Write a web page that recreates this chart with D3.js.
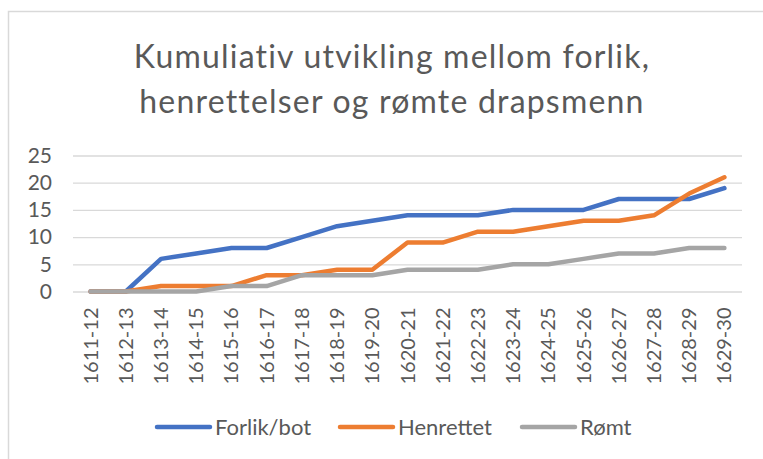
<!DOCTYPE html>
<html>
<head>
<meta charset="utf-8">
<script src="https://cdn.jsdelivr.net/npm/d3@7"></script>
<style>
  body { margin: 0; background: #fff; }
  text { font-family: Lato, "Open Sans", sans-serif; }
</style>
</head>
<body>
<div id="chart"></div>
<script>
// chart data
const categories = ["1611-12", "1612-13", "1613-14", "1614-15", "1615-16", "1616-17", "1617-18",
  "1618-19", "1619-20", "1620-21", "1621-22", "1622-23", "1623-24", "1624-25", "1625-26",
  "1626-27", "1627-28", "1628-29", "1629-30"]
const forlik = [0, 0, 6, 7, 8, 8, 10, 12, 13, 14, 14, 14, 15, 15, 15, 17, 17, 17, 19]
const henrettet = [0, 0, 1, 1, 1, 3, 3, 4, 4, 9, 9, 11, 11, 12, 13, 13, 14, 18, 21]
const romt = [0, 0, 0, 0, 1, 1, 3, 3, 3, 4, 4, 4, 5, 5, 6, 7, 7, 8, 8]
const seriesNames = ["Forlik/bot", "Henrettet", "Rømt"]
const yTicks = [0, 5, 10, 15, 20, 25]
const titleLines = ["Kumuliativ utvikling mellom forlik,", "henrettelser og rømte drapsmenn"]

const series = [
  { name: seriesNames[0], values: forlik, color: "#4472C4" },
  { name: seriesNames[1], values: henrettet, color: "#ED7D31" },
  { name: seriesNames[2], values: romt, color: "#A5A5A5" }
]

const width = 763
const height = 459
const plot = { left: 73, right: 742, top: 155.5, bottom: 291.5 }

const svg = d3.select("#chart").append("svg")
  .attr("width", width)
  .attr("height", height)

// chart border (only the left and top edges are in the frame)
svg.append("rect")
  .attr("x", 8.5).attr("y", 11.5)
  .attr("width", width + 20).attr("height", height + 20)
  .attr("fill", "none")
  .attr("stroke", "#d9d9d9")
  .attr("stroke-width", 1.5)

// title
svg.append("g").selectAll("text")
  .data(titleLines)
  .join("text")
  .attr("x", 392)
  .attr("y", (d, i) => 68 + i * 45)
  .attr("text-anchor", "middle")
  .attr("font-size", "32px")
  .attr("letter-spacing", "1.2px")
  .attr("fill", "#595959")
  .text(d => d)

const x = d3.scaleBand()
  .domain(categories)
  .range([plot.left, plot.right])

const y = d3.scaleLinear()
  .domain([0, 25])
  .range([plot.bottom, plot.top])

// gridlines
svg.append("g")
  .attr("transform", `translate(${plot.left},0)`)
  .call(d3.axisLeft(y).tickValues(yTicks).tickSize(-(plot.right - plot.left)).tickFormat(""))
  .call(g => g.select(".domain").remove())
  .call(g => g.selectAll("line").attr("stroke", "#d9d9d9").attr("stroke-width", 1.3))

// y tick labels
svg.append("g")
  .attr("transform", `translate(${plot.left},0)`)
  .call(d3.axisLeft(y).tickValues(yTicks).tickSize(0).tickPadding(21))
  .call(g => g.select(".domain").remove())
  .call(g => g.selectAll("text")
    .attr("font-family", "Lato, sans-serif")
    .attr("font-size", "21px")
    .attr("fill", "#595959"))

// x axis labels, rotated
svg.append("g")
  .attr("transform", `translate(0,${plot.bottom})`)
  .call(d3.axisBottom(x).tickSize(0).tickPadding(0))
  .call(g => g.select(".domain").remove())
  .call(g => g.selectAll("text")
    .attr("font-family", "Lato, sans-serif")
    .attr("font-size", "20px")
    .attr("fill", "#595959")
    .attr("text-anchor", "end")
    .attr("dy", "0.35em")
    .attr("transform", "translate(0,16) rotate(-90)")
    .attr("x", 0)
    .attr("y", 0))

// lines
const line = d3.line()
  .x((d, i) => x(categories[i]) + x.bandwidth() / 2)
  .y(d => y(d))

svg.append("g").selectAll("path")
  .data(series)
  .join("path")
  .attr("d", d => line(d.values))
  .attr("fill", "none")
  .attr("stroke", d => d.color)
  .attr("stroke-width", 4.5)
  .attr("stroke-linecap", "round")
  .attr("stroke-linejoin", "round")

// legend
const legendX = [155, 338, 520]
const legend = svg.append("g").selectAll("g")
  .data(series)
  .join("g")
  .attr("transform", (d, i) => `translate(${legendX[i]},427)`)

legend.append("line")
  .attr("x1", 2).attr("x2", 55)
  .attr("stroke", d => d.color)
  .attr("stroke-width", 4.5)
  .attr("stroke-linecap", "round")

legend.append("text")
  .attr("x", 60)
  .attr("dy", "0.35em")
  .attr("font-size", "22px")
  .attr("fill", "#595959")
  .text(d => d.name)
</script>
</body>
</html>
